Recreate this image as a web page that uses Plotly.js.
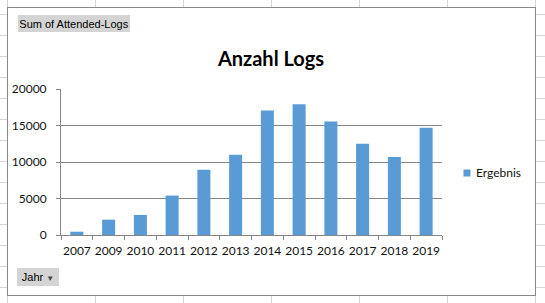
<!DOCTYPE html>
<html>
<head>
<meta charset="utf-8">
<script src="https://cdn.plot.ly/plotly-3.0.1.min.js"></script>
<style>
  html, body { margin:0; padding:0; }
  body {
    width:545px; height:303px; overflow:hidden; position:relative; background:#fff;
    background-image:
      linear-gradient(to right, #d4d4d4 1px, transparent 1px),
      linear-gradient(to bottom, #d4d4d4 1px, transparent 1px);
    background-size: 88px 21px;
    background-position: 7px 14px;
  }
  #box { position:absolute; left:7px; top:7px; width:529px; height:289px;
         border:1px solid #8a8a8a; background:#fff; box-sizing:border-box; }
  #chart { position:absolute; left:0; top:0; width:545px; height:303px; }
</style>
</head>
<body>
<div id="box"></div>
<div id="chart"></div>
<script>
const years = ['2007','2009','2010','2011','2012','2013','2014','2015','2016','2017','2018','2019'];
const logs  = [450, 2100, 2750, 5400, 8950, 11000, 17050, 17900, 15550, 12500, 10700, 14700];
const seriesName = 'Ergebnis';
const yTicks = [0, 5000, 10000, 15000, 20000];
const yTickText = ['0', '5000', '10000', '15000', '20000'];

// page-pixel -> paper helpers (plot area: x 61..442, y 89..235)
const L = 61, R = 442, T = 89, B = 235;
const px = x => (x - L) / (R - L);
const py = y => (B - y) / (B - T);

const font = 'Lato, "Noto Sans", sans-serif';

const trace = {
  type: 'bar', x: years, y: logs, name: seriesName,
  marker: { color: '#5B9BD5' }, showlegend: false, hoverinfo: 'x+y'
};

const layout = {
  width: 545, height: 303,
  margin: { l: L, r: 545 - R, t: T, b: 303 - B, pad: 0 },
  paper_bgcolor: 'rgba(0,0,0,0)', plot_bgcolor: 'rgba(0,0,0,0)',
  bargap: 0.59,
  font: { family: font, size: 12, color: '#111' },
  title: { text: '<b>Anzahl Logs</b>', font: { family: font, size: 20, color: '#000' },
           x: 271 / 545, xanchor: 'center', xref: 'container',
           y: 1 - 59 / 303, yanchor: 'middle', yref: 'container' },
  xaxis: {
    type: 'category', showline: true, linecolor: '#868686', linewidth: 1,
    ticks: 'outside', tickson: 'boundaries', ticklen: 4, tickcolor: '#868686',
    showgrid: false, tickfont: { family: font, size: 12, color: '#111' },
    tickangle: 0, ticklabelstandoff: 5, fixedrange: true
  },
  yaxis: {
    range: [0, 20000], tickmode: 'array', tickvals: yTicks, ticktext: yTickText,
    showline: true, linecolor: '#868686', linewidth: 1,
    ticks: 'outside', ticklen: 4, tickcolor: '#868686',
    showgrid: true, gridcolor: '#868686', gridwidth: 1, zeroline: false,
    tickfont: { family: font, size: 12, color: '#111' }, ticklabelstandoff: 7, fixedrange: true
  },
  shapes: [
    { type: 'rect', xref: 'paper', yref: 'paper',
      x0: px(463.5), x1: px(470.5), y0: py(176.5), y1: py(169.5),
      fillcolor: '#5B9BD5', line: { width: 0 } }
  ],
  annotations: [
    { xref: 'paper', yref: 'paper', x: px(474), y: py(172.8), xanchor: 'left', yanchor: 'middle',
      text: seriesName, showarrow: false, font: { family: font, size: 12, color: '#111' } },
    { xref: 'paper', yref: 'paper', x: px(18), y: py(15), xanchor: 'left', yanchor: 'top',
      text: 'Sum of Attended-Logs', showarrow: false, width: 112, height: 17, align: 'center', valign: 'middle',
      bgcolor: '#d4d4d4', borderpad: 0, borderwidth: 0,
      font: { family: '"Liberation Sans", Arial, sans-serif', size: 11, color: '#000' } },
    { xref: 'paper', yref: 'paper', x: px(17), y: py(268), xanchor: 'left', yanchor: 'top',
      text: 'Jahr <span style="font-size:8px;color:#444">▼</span>', showarrow: false, width: 42, height: 18,
      align: 'center', valign: 'middle', bgcolor: '#d4d4d4', borderpad: 0, borderwidth: 0,
      font: { family: '"Liberation Sans", Arial, sans-serif', size: 11, color: '#000' } }
  ]
};

Plotly.newPlot('chart', [trace], layout, { staticPlot: true, displayModeBar: false });
</script>
</body>
</html>
